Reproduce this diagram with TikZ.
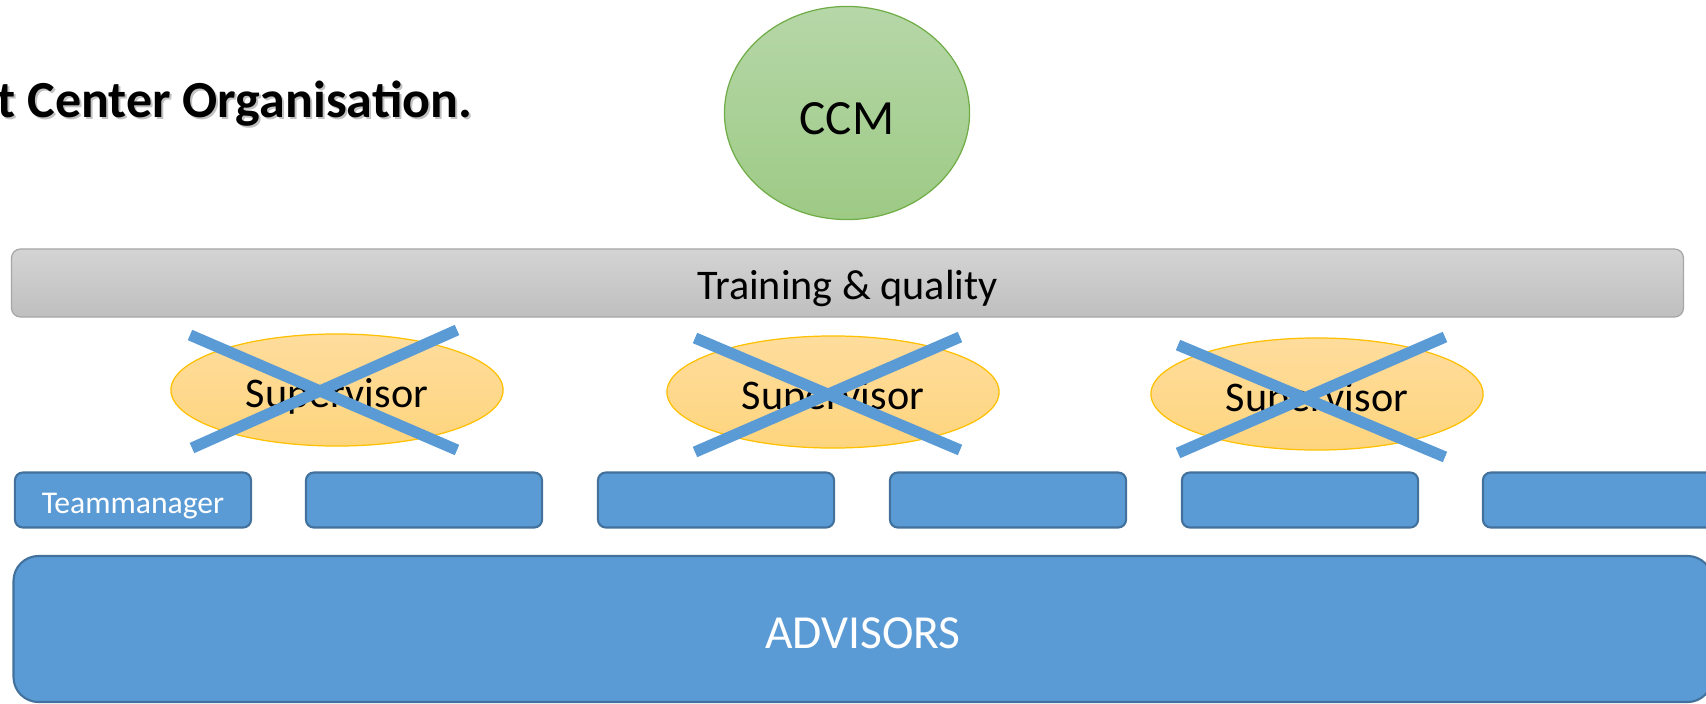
\documentclass[tikz,border=0pt]{standalone}
\usepackage{fontspec}
\setmainfont{Carlito}
\usepackage{tikz}
\usetikzlibrary{positioning}
\usetikzlibrary{shapes}

\definecolor{tmblue}{HTML}{5B9BD5}
\definecolor{tmedge}{HTML}{41719C}
\definecolor{bartop}{HTML}{D4D4D4}
\definecolor{barbot}{HTML}{BFBFBF}
\definecolor{baredge}{HTML}{A6A6A6}
\definecolor{ccmtop}{HTML}{B6D7A8}
\definecolor{ccmbot}{HTML}{9DCA85}
\definecolor{ccmedge}{HTML}{70AD47}
\definecolor{suptop}{HTML}{FEDC9C}
\definecolor{supbot}{HTML}{FED57E}
\definecolor{supedge}{HTML}{FFC000}

\tikzset{
  titletext/.style={inner sep=0pt, font=\fontsize{14.8}{17}\selectfont\bfseries},
  ccm/.style={ellipse, draw=ccmedge, line width=0.35pt, top color=ccmtop, bottom color=ccmbot,
    minimum width=2.45cm, minimum height=2.13cm, inner sep=0pt, text height=12pt, text depth=0pt,
    font=\fontsize{14}{16}\selectfont},
  trainbar/.style={draw=baredge, line width=0.35pt, rounded corners=0.9mm, top color=bartop, bottom color=barbot,
    minimum width=16.71cm, minimum height=0.68cm, inner sep=0pt, text height=9.3pt, text depth=0pt,
    font=\fontsize{12}{14}\selectfont},
  supervisor/.style={ellipse, draw=supedge, line width=0.35pt, top color=suptop, bottom color=supbot,
    minimum width=3.32cm, minimum height=1.12cm, inner sep=0pt, text height=10.2pt, text depth=0pt,
    font=\fontsize{12}{14}\selectfont},
  strike/.style={draw=tmblue, line width=3.2pt},
  teambox/.style={draw=tmedge, line width=0.6pt, fill=tmblue, rounded corners=0.8mm,
    minimum width=2.36cm, minimum height=0.55cm, inner sep=0pt, text height=7.6pt, text depth=0pt,
    text=white, font=\fontsize{9}{11}\selectfont},
  advisors/.style={draw=tmedge, line width=0.6pt, fill=tmblue, rounded corners=2.5mm,
    minimum width=16.98cm, minimum height=1.46cm, inner sep=0pt, text height=11pt, text depth=0pt,
    text=white, font=\fontsize{13.5}{16}\selectfont}
}

\begin{document}
\begin{tikzpicture}[x=0.01cm,y=-0.01cm]
\useasboundingbox (0,0) rectangle (1706,703);
\node[titletext, text=black!35, opacity=0.7, anchor=base east] (titleshadow) at (475,119) {t Center Organisation.};
\node[titletext, anchor=base east] (title) at (473,117) {t Center Organisation.};
\node[ccm] (ccm) at (847,113) {CCM};
\node[trainbar] (training) at (847.5,283) {Training \& quality};
\foreach \n/\x/\y in {1/337/390, 2/833/392, 3/1317/394} {
\node[supervisor] (sup\n) at (\x,\y) {Supervisor};
}
% crossed out
\foreach \xa/\ya/\xb/\yb in {190/335/457/450, 192/448/457/330, 695/338/960/450, 695/452/960/337, 1178/345/1445/457, 1178/453/1445/337} {
\draw[strike] (\xa,\ya) -- (\xb,\yb);
}
\node[teambox] (tm1) at (133,500) {Teammanager};
\foreach \n/\x in {2/424, 3/716, 4/1008, 5/1300, 6/1601} {
\node[teambox] (tm\n) at (\x,500) {};
}
\node[advisors] (advisors) at (863,629) {ADVISORS};
\end{tikzpicture}
\end{document}
